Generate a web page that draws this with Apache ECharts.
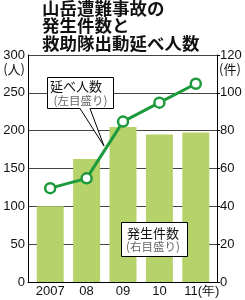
<!DOCTYPE html>
<html>
<head>
<meta charset="utf-8">
<script src="https://cdn.jsdelivr.net/npm/echarts@6/dist/echarts.min.js"></script>
<style>
html,body{margin:0;padding:0;background:#fff;}
#c{width:245px;height:300px;}
</style>
</head>
<body>
<div id="c"></div>
<script>
var categories = ['2007', '08', '09', '10', '11'];
var incidents = [40, 65, 82, 78, 79];          // 発生件数 (件, right scale)
var rescuers = [124, 137, 212, 237, 262];      // 救助隊出動延べ人数 (人, left scale)
var titleLines = ['山岳遭難事故の', '発生件数と', '救助隊出動延べ人数'];

var NUM = 'Liberation Sans, Arial, sans-serif';
var JP = 'Noto Sans CJK JP, sans-serif';
var chart = echarts.init(document.getElementById('c'), null, {renderer: 'canvas'});

var titleY = [9, 26, 44];
var titleGraphics = titleLines.map(function (t, i) {
  return {type: 'text', x: 42, y: titleY[i], z: 10, scaleX: 1.06,
          style: {text: t, fontSize: 16.5, fontWeight: 'bold', fontFamily: JP, fill: '#111',
                  align: 'left', verticalAlign: 'middle'}};
});

chart.setOption({
  animation: false,
  backgroundColor: '#fff',
  grid: [
    {left: 28, right: 28, top: 55, bottom: 18},
    {left: 32, right: 31, top: 55, bottom: 18}
  ],
  xAxis: [
    {gridIndex: 0, type: 'category', data: categories,
     axisLine: {lineStyle: {color: '#000', width: 1}}, axisTick: {show: false}, axisLabel: {show: false}},
    {gridIndex: 1, type: 'category', data: categories,
     axisLine: {show: false}, axisTick: {show: false},
     axisLabel: {interval: 0, margin: 3, fontSize: 13, color: '#111', fontFamily: NUM,
       formatter: function (v, i) { return i === categories.length - 1 ? '{y|' + v + '(年)}' : v; },
       rich: {y: {fontSize: 13, color: '#111', fontFamily: NUM, padding: [0, 0, 0, 12]}}}}
  ],
  yAxis: [
    {gridIndex: 0, type: 'value', min: 0, max: 300, interval: 50, position: 'left',
     axisLine: {show: true, lineStyle: {color: '#000', width: 1}}, axisTick: {show: false},
     axisLabel: {margin: 3, fontSize: 13, color: '#111', fontFamily: NUM},
     splitLine: {show: true, lineStyle: {color: '#444', width: 1}}},
    {gridIndex: 0, type: 'value', min: 0, max: 120, interval: 20, position: 'right',
     axisLine: {show: true, lineStyle: {color: '#000', width: 1}},
     axisTick: {show: true, length: 3, lineStyle: {color: '#000'}},
     axisLabel: {margin: 3, fontSize: 13, color: '#111', fontFamily: NUM},
     splitLine: {show: false}},
    {gridIndex: 1, type: 'value', min: 0, max: 300, show: false},
    {gridIndex: 1, type: 'value', min: 0, max: 120, show: false}
  ],
  series: [
    {type: 'bar', xAxisIndex: 1, yAxisIndex: 3, data: incidents, barWidth: 27, z: 2,
     itemStyle: {color: '#b6d26a'}},
    {type: 'line', xAxisIndex: 1, yAxisIndex: 2, data: rescuers, z: 5,
     lineStyle: {color: '#1c9a3c', width: 3},
     symbol: 'circle', symbolSize: 10,
     itemStyle: {color: '#fff', borderColor: '#1c9a3c', borderWidth: 2.5}}
  ],
  graphic: titleGraphics.concat([
    {type: 'text', x: 25, y: 69, z: 10,
     style: {text: '(人)', fontSize: 13, fontFamily: JP, fill: '#111', align: 'right', verticalAlign: 'middle'}},
    {type: 'text', x: 219, y: 69, z: 10,
     style: {text: '(件)', fontSize: 13, fontFamily: JP, fill: '#111', align: 'left', verticalAlign: 'middle'}},
    // callout 1
    {type: 'rect', z: 1, shape: {x: 47.5, y: 77.5, width: 66, height: 31},
     style: {fill: '#fff', stroke: '#000', lineWidth: 1}},
    {type: 'polygon', z: 1, shape: {points: [[80, 108], [90, 108], [104, 146]]},
     style: {fill: '#fff', stroke: null}},
    {type: 'polyline', z: 1, shape: {points: [[80, 108.5], [104, 146], [90, 108.5]]},
     style: {stroke: '#000', lineWidth: 1, fill: null}},
    {type: 'text', x: 76, y: 86, z: 1,
     style: {text: '延べ人数', fontSize: 13, fontFamily: JP, fill: '#111', align: 'center', verticalAlign: 'middle'}},
    {type: 'text', x: 80.5, y: 101, z: 1,
     style: {text: '(左目盛り)', fontSize: 11.5, fontFamily: JP, fill: '#666', align: 'center', verticalAlign: 'middle'}},
    // callout 2
    {type: 'rect', z: 10, shape: {x: 121.5, y: 222.5, width: 66, height: 34},
     style: {fill: '#fff', stroke: '#000', lineWidth: 1}},
    {type: 'text', x: 153, y: 233, z: 10,
     style: {text: '発生件数', fontSize: 13, fontFamily: JP, fill: '#111', align: 'center', verticalAlign: 'middle'}},
    {type: 'text', x: 153, y: 247, z: 10,
     style: {text: '(右目盛り)', fontSize: 11.5, fontFamily: JP, fill: '#666', align: 'center', verticalAlign: 'middle'}}
  ])
});
</script>
</body>
</html>
